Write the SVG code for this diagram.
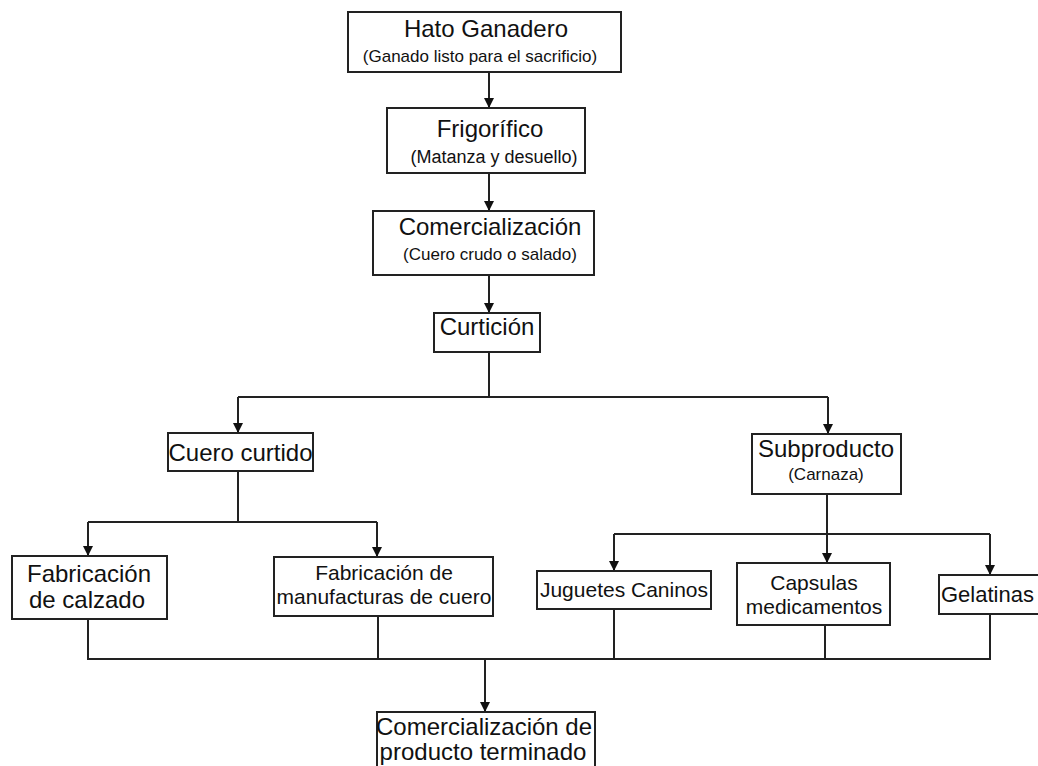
<svg xmlns="http://www.w3.org/2000/svg" width="1038" height="766" viewBox="0 0 1038 766">
<style>
.box{fill:#fff;stroke:#222;stroke-width:2}
.t{font-family:"Liberation Sans",Arial,sans-serif;fill:#111;text-anchor:middle}
.l{font-size:24px}
.m{font-size:21px}
.s{font-size:17px}
.c{fill:none;stroke:#222;stroke-width:2}
</style>
<defs>
<marker id="ah" viewBox="0 0 10 10" refX="10" refY="5" markerWidth="10" markerHeight="10" markerUnits="userSpaceOnUse" orient="auto">
<path d="M0,0 L10,5 L0,10 Z" fill="#111"/>
</marker>
</defs>
<rect width="1038" height="766" fill="#fff"/>
<g id="connectors">
<line class="c" x1="489" y1="72" x2="489" y2="108" marker-end="url(#ah)"/>
<line class="c" x1="489" y1="173" x2="489" y2="211" marker-end="url(#ah)"/>
<line class="c" x1="489" y1="275" x2="489" y2="313" marker-end="url(#ah)"/>
<polyline class="c" points="489,352 489,397"/>
<line class="c" x1="238" y1="397" x2="828" y2="397"/>
<line class="c" x1="238" y1="397" x2="238" y2="433" marker-end="url(#ah)"/>
<line class="c" x1="828" y1="397" x2="828" y2="434" marker-end="url(#ah)"/>
<polyline class="c" points="238,471 238,522"/>
<line class="c" x1="88" y1="522" x2="377" y2="522"/>
<line class="c" x1="88" y1="522" x2="88" y2="556" marker-end="url(#ah)"/>
<line class="c" x1="377" y1="522" x2="377" y2="557" marker-end="url(#ah)"/>
<polyline class="c" points="827,494 827,534"/>
<line class="c" x1="614" y1="534" x2="990" y2="534"/>
<line class="c" x1="614" y1="534" x2="614" y2="571" marker-end="url(#ah)"/>
<line class="c" x1="827" y1="534" x2="827" y2="563" marker-end="url(#ah)"/>
<line class="c" x1="990" y1="534" x2="990" y2="575" marker-end="url(#ah)"/>
<polyline class="c" points="88,619 88,659 990,659 990,614"/>
<line class="c" x1="378" y1="616" x2="378" y2="659"/>
<line class="c" x1="614" y1="609" x2="614" y2="659"/>
<line class="c" x1="825" y1="625" x2="825" y2="659"/>
<line class="c" x1="485" y1="659" x2="485" y2="712" marker-end="url(#ah)"/>
</g>
<g id="hato">
<rect class="box" x="348" y="12" width="273" height="60"/>
<text class="t l" x="486" y="37">Hato Ganadero</text>
<text class="t s" x="480" y="62">(Ganado listo para el sacrificio)</text>
</g>
<g id="frigorifico">
<rect class="box" x="387" y="108" width="198" height="65"/>
<text class="t l" x="490" y="137">Frigorífico</text>
<text class="t" style="font-size:18px" x="494" y="163">(Matanza y desuello)</text>
</g>
<g id="comercializacion">
<rect class="box" x="373" y="211" width="221" height="64"/>
<text class="t l" x="490" y="235">Comercialización</text>
<text class="t s" x="490" y="260">(Cuero crudo o salado)</text>
</g>
<g id="curticion">
<rect class="box" x="434" y="313" width="106" height="39"/>
<text class="t l" x="487" y="335">Curtición</text>
</g>
<g id="cuero-curtido">
<rect class="box" x="168" y="433" width="145" height="38"/>
<text class="t l" x="240.5" y="461">Cuero curtido</text>
</g>
<g id="subproducto">
<rect class="box" x="752" y="434" width="149" height="60"/>
<text class="t l" x="826" y="457">Subproducto</text>
<text class="t s" x="826" y="480">(Carnaza)</text>
</g>
<g id="calzado">
<rect class="box" x="12" y="556" width="155" height="63"/>
<text class="t l" x="89" y="582">Fabricación</text>
<text class="t l" x="87" y="608">de calzado</text>
</g>
<g id="manufacturas">
<rect class="box" x="274" y="557" width="219" height="59"/>
<text class="t m" x="384" y="580">Fabricación de</text>
<text class="t m" x="384" y="604">manufacturas de cuero</text>
</g>
<g id="juguetes">
<rect class="box" x="537" y="571" width="174" height="38"/>
<text class="t m" x="624" y="597">Juguetes Caninos</text>
</g>
<g id="capsulas">
<rect class="box" x="737" y="563" width="153" height="62"/>
<text class="t m" x="814" y="590">Capsulas</text>
<text class="t m" x="814" y="614">medicamentos</text>
</g>
<g id="gelatinas">
<rect class="box" x="939" y="575" width="100" height="39"/>
<text class="t" style="font-size:22px;text-anchor:start" x="941" y="602">Gelatinas</text>
</g>
<g id="final">
<rect class="box" x="377" y="712" width="218" height="60"/>
<text class="t l" x="484" y="735">Comercialización de</text>
<text class="t l" x="483" y="760">producto terminado</text>
</g>
</svg>
